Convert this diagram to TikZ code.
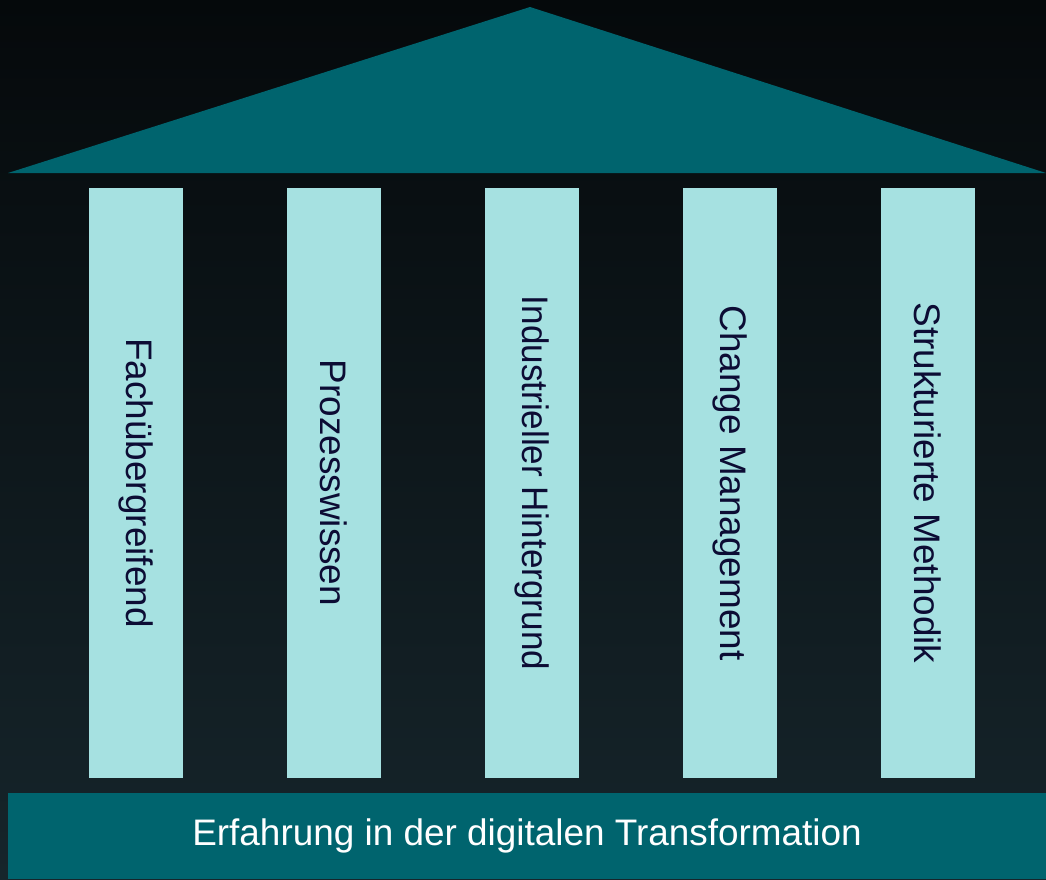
\documentclass[tikz,border=0pt]{standalone}
\usepackage{fontspec}
\setmainfont{Liberation Sans}
\newfontfamily\narrowsans[FakeStretch=0.95]{Liberation Sans}
\usepackage{xcolor}
\usepackage{tikz}
\usetikzlibrary{positioning}
\definecolor{bgtop}{HTML}{05090B}
\definecolor{bgbot}{HTML}{16252B}
\definecolor{teal}{HTML}{00646E}
\definecolor{pillarfill}{HTML}{A6E1E1}
\definecolor{pillartext}{HTML}{0C0C34}
\tikzset{
  pillar/.style ={rectangle, fill=pillarfill, text=pillartext, rotate=-90, minimum width=5.9cm, minimum height=0.94cm, inner sep=0pt, align=center, font=\fontsize{10.5}{12}\selectfont},
  basis/.style  ={rectangle, fill=teal, text=white, minimum width=10.38cm, minimum height=0.86cm, inner sep=0pt, align=center, font=\fontsize{10.5}{12}\selectfont},
  roof/.style   ={fill=teal},
}
\begin{document}
\begin{tikzpicture}
  % background
  \shade[top color=bgtop, bottom color=bgbot] (0,0) rectangle (10.46,8.79);
  \useasboundingbox (0,0) rectangle (10.46,8.79);

  % roof
  \fill[roof] (0.08,7.06) -- (5.30,8.72) -- (10.46,7.06) -- cycle;

  % pillars
  \node[pillar] (p1) at (1.36,3.96) {Fachübergreifend};
  \node[pillar] (p2) at (3.34,3.96) {Prozesswissen};
  \node[pillar] (p3) at (5.32,3.96) {\narrowsans Industrieller Hintergrund};
  \node[pillar] (p4) at (7.30,3.96) {Change Management};
  \node[pillar] (p5) at (9.28,3.96) {Strukturierte Methodik};

  % foundation
  \node[basis] (base) at (5.27,0.43) {\raisebox{-0.4mm}{Erfahrung in der digitalen Transformation}};
\end{tikzpicture}
\end{document}
